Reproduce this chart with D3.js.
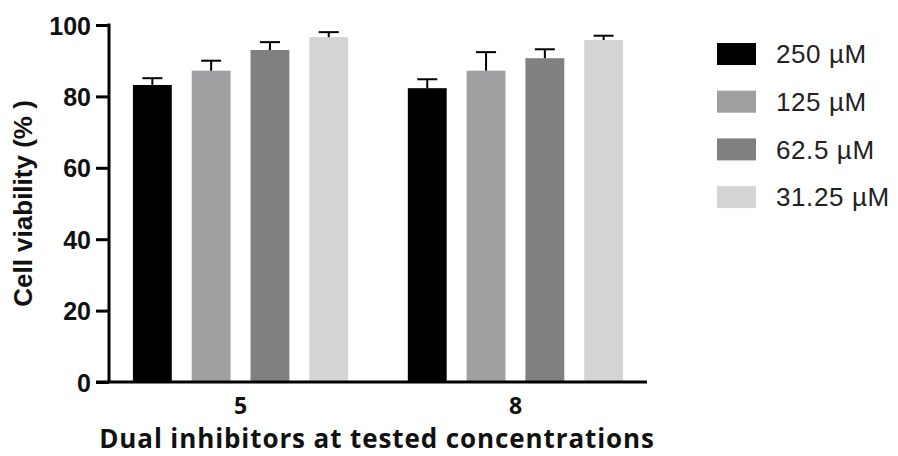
<!DOCTYPE html>
<html>
<head>
<meta charset="utf-8">
<script src="https://cdn.jsdelivr.net/npm/d3@7"></script>
<style>
  html, body { margin: 0; padding: 0; background: #fff; }
  svg { display: block; }
</style>
</head>
<body>
<svg id="chart" width="898" height="456"></svg>
<script>
const groups = ["5", "8"];
const series = ["250 \u00b5M", "125 \u00b5M", "62.5 \u00b5M", "31.25 \u00b5M"];
const colors = ["#000000", "#a0a0a3", "#808080", "#d4d4d4"];
const values = [
  [83.2, 87.2, 93.0, 96.6],
  [82.3, 87.2, 90.7, 95.8]
];
const errors = [
  [1.9, 2.8, 2.2, 1.4],
  [2.5, 5.2, 2.5, 1.2]
];
const yTicks = [0, 20, 40, 60, 80, 100];
const yTitle = "Cell viability (% )";
const xTitle = "Dual inhibitors at tested concentrations";

const svg = d3.select("#chart");
const plotLeft = 109, plotRight = 647, plotTop = 25, plotBottom = 382;

const y = d3.scaleLinear().domain([0, 100]).range([plotBottom, plotTop]);
const x0 = d3.scaleBand().domain(groups).range([plotLeft, plotRight]).paddingInner(0.217).paddingOuter(0.087);
const x1 = d3.scaleBand().domain(d3.range(series.length)).range([0, x0.bandwidth()]).paddingInner(0.339).paddingOuter(0);

// bars
groups.forEach((g, gi) => {
  const gEl = svg.append("g").attr("transform", `translate(${x0(g)},0)`);
  series.forEach((s, si) => {
    const v = values[gi][si], e = errors[gi][si];
    const bx = x1(si), bw = x1.bandwidth();
    gEl.append("rect")
      .attr("x", bx).attr("width", bw)
      .attr("y", y(v)).attr("height", y(0) - y(v))
      .attr("fill", colors[si]);
    const cx = bx + bw / 2;
    gEl.append("line").attr("x1", cx).attr("x2", cx)
      .attr("y1", y(v)).attr("y2", y(v + e))
      .attr("stroke", "#000").attr("stroke-width", 2);
    gEl.append("line").attr("x1", cx - 10).attr("x2", cx + 10)
      .attr("y1", y(v + e)).attr("y2", y(v + e))
      .attr("stroke", "#000").attr("stroke-width", 2);
  });
});

// y axis
const yAxis = svg.append("g").attr("transform", `translate(${plotLeft},0)`)
  .call(d3.axisLeft(y).tickValues(yTicks).tickSize(13).tickPadding(5));
yAxis.select(".domain").attr("stroke", "#000").attr("stroke-width", 3)
  .attr("d", `M0,${plotTop - 1.5}V${plotBottom}`);
yAxis.selectAll(".tick line").attr("stroke", "#000").attr("stroke-width", 3);
yAxis.selectAll(".tick text")
  .attr("font-family", "'Liberation Sans', Arial, sans-serif")
  .attr("font-weight", "bold").attr("font-size", 25).attr("fill", "#111")
  .attr("dy", "0.36em");

// x axis
const xAxis = svg.append("g").attr("transform", `translate(0,${plotBottom})`)
  .call(d3.axisBottom(x0).tickSize(0).tickPadding(16));
xAxis.select(".domain").attr("stroke", "#000").attr("stroke-width", 3)
  .attr("d", `M${plotLeft - 13},0H${plotRight}`);
xAxis.selectAll(".tick text")
  .attr("font-family", "'Open Sans', 'DejaVu Sans', sans-serif")
  .attr("font-weight", "bold").attr("font-size", 23).attr("fill", "#111");

// axis titles
svg.append("text")
  .attr("x", 377).attr("y", 448)
  .attr("text-anchor", "middle")
  .attr("font-family", "'Open Sans', 'DejaVu Sans', sans-serif")
  .attr("font-weight", "bold").attr("font-size", 26).attr("letter-spacing", 0.9).attr("fill", "#111")
  .text(xTitle);

svg.append("text")
  .attr("transform", `translate(32,${(plotTop + plotBottom) / 2}) rotate(-90)`)
  .attr("text-anchor", "middle")
  .attr("font-family", "'Liberation Sans', Arial, sans-serif")
  .attr("font-weight", "bold").attr("font-size", 26).attr("fill", "#111")
  .text(yTitle);

// legend
const legend = svg.append("g").attr("transform", "translate(717,43)");
series.forEach((s, si) => {
  const row = legend.append("g").attr("transform", `translate(0,${si * 47.7})`);
  row.append("rect").attr("width", 39).attr("height", 22).attr("fill", colors[si]);
  row.append("text").attr("x", 59).attr("y", 11).attr("dy", "0.36em")
    .attr("font-family", "'Liberation Sans', Arial, sans-serif")
    .attr("font-size", 26).attr("letter-spacing", 0.6).attr("fill", "#222")
    .text(s);
});
</script>
</body>
</html>
